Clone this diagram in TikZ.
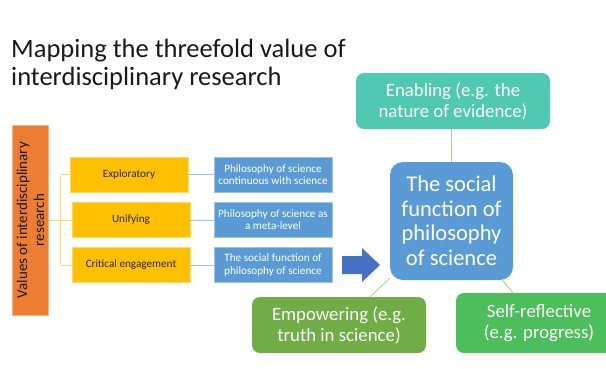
\documentclass[tikz,border=0pt]{standalone}
\usepackage{fontspec}
\setmainfont{Carlito}
\definecolor{orng}{HTML}{ED7D31}
\definecolor{yel}{HTML}{FFC000}
\definecolor{bluebox}{HTML}{5B9BD5}
\definecolor{teal}{HTML}{4FC9B1}
\definecolor{grn}{HTML}{70AD47}
\definecolor{grn2}{HTML}{4CBF5C}
\definecolor{arrblue}{HTML}{4472C4}
\definecolor{yline}{HTML}{FFD966}
\definecolor{bline}{HTML}{9DC3E6}
\definecolor{gline}{HTML}{A9D18E}
\begin{document}
\begin{tikzpicture}[x=1pt,y=-1pt,
  ybox/.style={fill=yel,draw=yel!60!white,line width=0.6pt,minimum width=118pt,minimum height=35pt,inner sep=0pt,font=\fontsize{11.2}{12.2}\selectfont,text=black!85},
  sbox/.style={fill=bluebox,draw=bluebox!60!white,line width=0.6pt,minimum width=118pt,minimum height=35pt,inner sep=0pt,align=center,font=\fontsize{11.2}{12.2}\selectfont,text=white},
  rbox/.style={rounded corners=8pt,inner sep=0pt,align=center,text=white,font=\fontsize{18.8}{21}\selectfont},
  yl/.style={draw=yline,line width=0.8pt},
  bl/.style={draw=bline,line width=0.8pt},
  gl/.style={draw=gline,line width=0.8pt}]
\clip (0,0) rectangle (606,368);
\useasboundingbox (0,0) rectangle (606,368);
% title
\node[anchor=base west,inner sep=0pt,font=\fontsize{26.5}{28}\selectfont,text=black!90] (t1) at (11,57) {Mapping the threefold value of};
\node[anchor=base west,inner sep=0pt,font=\fontsize{26.5}{28}\selectfont,text=black!90] (t2) at (11,85) {interdisciplinary research};
% left tree
\node[fill=orng,draw=orng!60!white,line width=0.6pt,minimum width=36pt,minimum height=190pt,inner sep=0pt] (vals) at (30.5,220) {};
\node[rotate=90,align=center,inner sep=0pt,font=\fontsize{15}{17}\selectfont,text=black!90] (valt) at (vals.center) {Values of interdisciplinary\\research};
\node[ybox] (e1) at (129,174.5) {Exploratory};
\node[ybox] (e2) at (131,220) {Unifying};
\node[ybox] (e3) at (131,265) {Critical engagement};
\node[sbox] (b1) at (273,174.5) {Philosophy of science\\continuous with science};
\node[sbox] (b2) at (273,220) {Philosophy of science as\\a meta-level};
\node[sbox] (b3) at (273,265) {The social function of\\philosophy of science};
\draw[yl] (vals.east) -- ++(12,0) coordinate (j);
\draw[yl] (j |- e1.west) -- (j |- e3.west);
\draw[yl] (j |- e1.west) -- (e1.west);
\draw[yl] (j |- e2.west) -- (e2.west);
\draw[yl] (j |- e3.west) -- (e3.west);
\draw[bl] (e1.east) -- (b1.west);
\draw[bl] (e2.east) -- (b2.west);
\draw[bl] (e3.east) -- (b3.west);
% right part
\node[fill=bluebox,rounded corners=13pt,minimum width=123pt,minimum height=118pt,inner sep=0pt,align=center,text=white,font=\fontsize{22.5}{24.5}\selectfont] (c) at (451.5,221) {The social\\function of\\philosophy\\of science};
\node[rbox,fill=teal,minimum width=194pt,minimum height=56pt] (en) at (453,101) {Enabling (e.g. the\\nature of evidence)};
\node[rbox,fill=grn,minimum width=174pt,minimum height=56pt] (em) at (339,325) {Empowering (e.g.\\truth in science)};
\node[rbox,fill=grn2,minimum width=166pt,minimum height=60pt] (sr) at (539,323) {Self-reflective\\(e.g. progress)};
\draw[gl] (en.south -| c.north) -- (c.north);
\draw[gl] (c.south west) ++(0,-2) coordinate (cl) -- (em.north -| 370,0);
\draw[gl] (c.south east) ++(-11,0) -- (sr.north -| 513,0);
% block arrow
\fill[arrblue] (342,256) -- (362,256) -- (362,248) -- (380,265) -- (362,282) -- (362,274) -- (342,274) -- cycle;
\end{tikzpicture}
\end{document}
